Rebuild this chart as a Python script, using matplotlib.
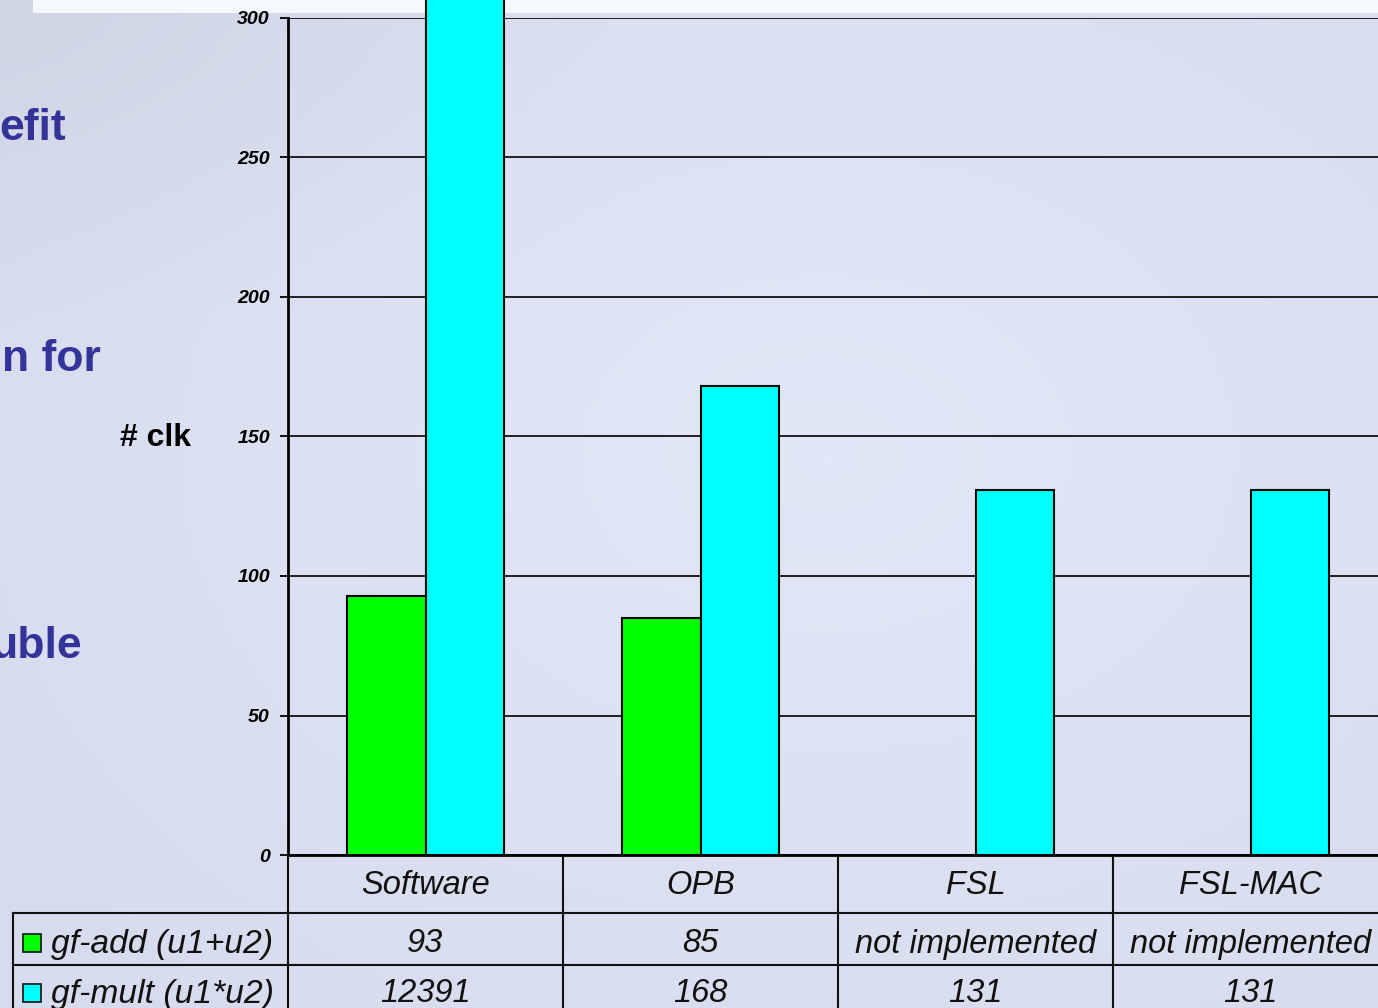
import numpy as np
import matplotlib
matplotlib.use("Agg")
import matplotlib.pyplot as plt
from matplotlib.transforms import blended_transform_factory
from matplotlib.patches import Rectangle

# --------------------------------------------------
# Data
# --------------------------------------------------
categories = ["Software", "OPB", "FSL", "FSL-MAC"]
series_names = ["gf-add (u1+u2)", "gf-mult (u1*u2)"]
gf_add = [93, 85, None, None]
gf_mult = [12391, 168, 131, 131]
y_ticks = [0, 50, 100, 150, 200, 250, 300]
missing_label = "not implemented"

colors = ["#00ff00", "#00ffff"]
W, H = 1378, 1008


def fy(px):
    # pixel from top -> figure fraction
    return 1 - px / H


fig = plt.figure(figsize=(W / 100, H / 100), dpi=100)

# --------------------------------------------------
# Background (slide look)
# --------------------------------------------------
bg = fig.add_axes([0, 0, 1, 1], zorder=0)
yy, xx = np.mgrid[0:1:200j, 0:1:280j]
c_tl = np.array([0.80, 0.82, 0.87])
c_c = np.array([0.89, 0.91, 0.97])
c_bl = np.array([0.84, 0.86, 0.93])
d = np.clip(np.sqrt((xx - 0.6) ** 2 + (yy - 0.45) ** 2) / 0.75, 0, 1)[..., None]
base = c_c * (1 - d) + c_bl * d
tl = np.clip(1 - np.sqrt(xx ** 2 + (yy * 1.4) ** 2) / 0.45, 0, 1)[..., None]
img = base * (1 - 0.6 * tl) + c_tl * 0.6 * tl
bg.imshow(img, extent=[0, 1, 0, 1], aspect="auto", origin="upper")
bg.add_patch(Rectangle((33 / W, fy(13)), 1, 13 / H, color="#f5f8fc", lw=0))
bg.set_xlim(0, 1)
bg.set_ylim(0, 1)
bg.axis("off")

# --------------------------------------------------
# Chart
# --------------------------------------------------
ax_left, ax_right = 288, 1388
ax_top, ax_bot = 18, 855
ax = fig.add_axes([ax_left / W, fy(ax_bot), (ax_right - ax_left) / W,
                   (ax_bot - ax_top) / H], zorder=1)
ax.patch.set_alpha(0)

x = np.arange(len(categories))
width = 0.285
add_vals = [v if v is not None else 0 for v in gf_add]
b1 = ax.bar(x - width / 2, add_vals, width, color=colors[0],
            edgecolor="black", linewidth=1.5, zorder=3)
for bar, v in zip(b1, gf_add):
    if v is None:
        bar.set_visible(False)
b2 = ax.bar(x + width / 2, gf_mult, width, color=colors[1],
            edgecolor="black", linewidth=1.5, zorder=3)
for bar in b2:
    bar.set_clip_on(False)

ax.set_xlim(-0.5, 3.5)
ax.set_ylim(0, 300)
ax.set_yticks(y_ticks)
ax.set_yticklabels([str(t) for t in y_ticks], fontsize=14,
                   fontweight="bold", fontstyle="italic",
                   family="Liberation Sans")
ax.tick_params(axis="y", length=6, width=1.3, pad=7)
ax.set_xticks([])
ax.yaxis.grid(True, color="#111111", linewidth=1.3)
ax.set_axisbelow(True)
for s in ["top", "right"]:
    ax.spines[s].set_visible(False)
ax.spines["left"].set_linewidth(2)
ax.spines["bottom"].set_linewidth(2)

fig.text(156 / W, fy(438), "# clk", fontsize=23, fontweight="bold",
         family="Liberation Sans", ha="center", va="center", color="black")

# --------------------------------------------------
# Data table below the chart
# --------------------------------------------------
tr = blended_transform_factory(ax.transData, fig.transFigure)
bottom = 1030
lk = dict(color="#111111", linewidth=1.5, transform=tr, clip_on=False)
ax.plot([-1.5, 3.6], [fy(913), fy(913)], **lk)
ax.plot([-1.5, 3.6], [fy(965), fy(965)], **lk)
for xv in [-0.5, 0.5, 1.5, 2.5]:
    ax.plot([xv, xv], [fy(855), fy(bottom)], **lk)
ax.plot([-1.5, -1.5], [fy(913), fy(bottom)], **lk)

tk = dict(fontsize=23.5, fontstyle="italic", family="Liberation Sans",
          color="#111111", ha="center", va="center", transform=tr)
for i, c in enumerate(categories):
    ax.text(i, fy(886), c, **tk)
for i, v in enumerate(gf_add):
    ax.text(i, fy(944), missing_label if v is None else str(v), **tk)
for i, v in enumerate(gf_mult):
    ax.text(i, fy(994), missing_label if v is None else str(v), **tk)

for j, (name, y_c) in enumerate(zip(series_names, [944, 994])):
    fig.add_artist(Rectangle((23 / W, fy(y_c + 8)), 18 / W, 18 / H,
                             facecolor=colors[j], edgecolor="#111111",
                             linewidth=1.2))
    fig.text(51 / W, fy(y_c), name, fontsize=24.2, fontstyle="italic",
             family="Liberation Sans", color="#111111", ha="left",
             va="center")

# --------------------------------------------------
# Cut-off slide text on the left
# --------------------------------------------------
for txt, xr, yb in [("efit", 66, 140), ("n for", 101, 371), ("uble", 82, 658)]:
    fig.text(xr / W, fy(yb), txt, fontsize=32, fontweight="bold",
             family="Liberation Sans", color="#333399", ha="right",
             va="baseline")

fig.savefig("out.png", dpi=100)
